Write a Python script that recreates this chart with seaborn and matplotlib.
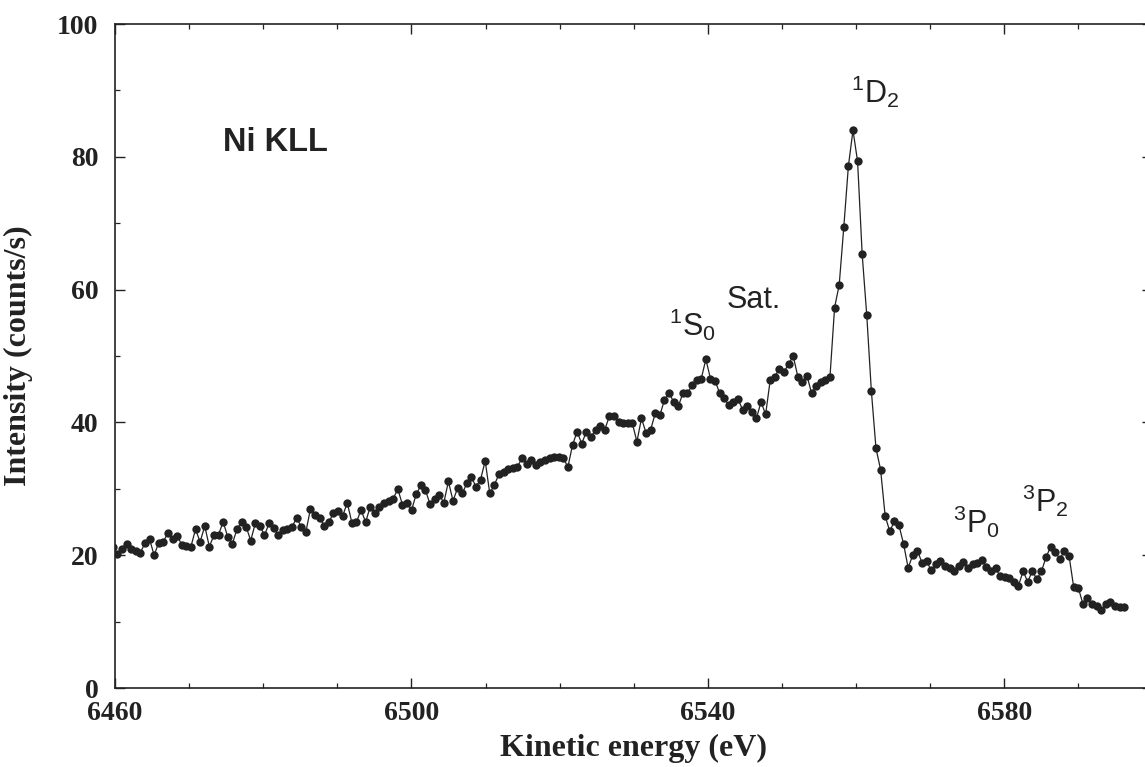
import numpy as np
import matplotlib
matplotlib.use("Agg")
import matplotlib.pyplot as plt
import seaborn as sns
from matplotlib.ticker import MultipleLocator

# ---- data ----
counts_low = [21.3, 20.2, 21.0, 21.7, 20.9, 20.7, 20.4, 21.8, 22.4, 20.0, 21.9, 22.0, 23.4, 22.4,
              22.9, 21.6, 21.4, 21.3, 23.9, 22.0, 24.4, 21.3, 23.0, 23.1, 25.0, 22.8, 21.7, 23.9,
              25.0, 24.3, 22.2, 24.8, 24.4, 23.0, 24.8, 24.1, 23.0, 23.8, 23.9, 24.3, 25.6, 24.3,
              23.5, 27.0, 26.1, 25.6, 24.4, 25.0, 26.3, 26.7, 25.9, 27.9, 24.9, 25.0, 26.8, 25.0,
              27.3, 26.3, 27.3, 27.8, 28.2, 28.5, 30.0, 27.6, 27.8, 26.8, 29.2, 30.5, 29.8, 27.7,
              28.4, 29.1, 27.9, 31.1, 28.2, 30.1, 29.3, 30.8, 31.8, 30.3, 31.4, 34.2, 29.3, 30.6,
              32.2, 32.6, 33.0]
counts_mid = [33.1, 33.3, 34.6, 33.8, 34.3, 33.6, 34.1, 34.3, 34.6, 34.8, 34.8, 34.6, 33.3,
              36.6, 38.6, 36.8, 38.6, 37.8, 38.9, 39.4, 38.9, 40.9, 41.0, 40.1, 39.9, 39.9, 39.9,
              37.1, 40.6, 38.4, 38.9, 41.4, 41.1, 43.4, 44.4, 43.1, 42.4, 44.4, 44.4, 45.6, 46.4,
              46.6, 49.5, 46.6, 46.3, 44.4, 43.6, 42.6, 43.1, 43.5, 41.9, 42.4, 41.6, 40.6, 43.1,
              41.2, 46.4, 46.9, 48.1, 47.6, 48.8, 50.0, 46.9, 46.1, 47.0, 44.4, 45.5, 46.1, 46.4,
              46.9]
counts_high = [57.3, 60.7, 69.4, 78.6, 84.0, 79.3, 65.3, 56.1, 44.7, 36.1, 32.9, 25.9, 23.6,
               25.1, 24.5, 21.7, 18.1, 20.0, 20.7, 18.9, 19.2, 17.7, 18.6, 19.2, 18.4, 18.0, 17.6,
               18.4, 19.0, 18.1, 18.6, 18.9, 19.3, 18.2, 17.6, 18.0, 16.9, 16.7, 16.5, 16.0, 15.4,
               17.6, 16.0, 17.6, 16.4, 17.6, 19.7, 21.3, 20.5, 19.4, 20.7, 19.9, 15.2, 15.1, 12.7,
               13.5, 12.7, 12.3, 11.7, 12.6, 13.0, 12.4, 12.2, 12.2]
counts = counts_low + counts_mid + counts_high
e_first, e_last = 6459.7, 6596.2
energy = np.linspace(e_first, e_last, len(counts))

x_major = [6460, 6500, 6540, 6580]
y_major = [0, 20, 40, 60, 80, 100]
peak_labels = [
    ("Ni KLL", 6481.7, 82.1, "sans-bold"),
    (r"$^{1}$S$_{0}$", 6537.9, 54.7, "sans"),
    ("Sat.", 6546.2, 58.4, "sans"),
    (r"$^{1}$D$_{2}$", 6562.6, 89.8, "sans"),
    (r"$^{3}$P$_{0}$", 6576.2, 25.0, "sans"),
    (r"$^{3}$P$_{2}$", 6585.5, 28.2, "sans"),
]

# ---- style ----
sns.set_style("ticks")
plt.rcParams["font.family"] = ["Liberation Serif", "DejaVu Serif"]
plt.rcParams["mathtext.default"] = "regular"

ink = "#222222"
fig = plt.figure(figsize=(11.45, 7.67), dpi=100)
ax = fig.add_axes([115 / 1145, 79 / 767, 1037.4 / 1145, 664 / 767])

sns.lineplot(x=energy, y=counts, ax=ax, color=ink, linewidth=0.9, marker="o",
             markersize=6.0, markeredgewidth=0, markerfacecolor=ink, sort=False)

ax.set_xlim(6460, 6600)
ax.set_ylim(0, 100)
ax.set_xticks(x_major)
ax.set_yticks(y_major)
ax.xaxis.set_minor_locator(MultipleLocator(10))
ax.yaxis.set_minor_locator(MultipleLocator(10))
ax.tick_params(which="both", direction="in", top=True, right=True, color=ink)
ax.tick_params(which="major", length=7, width=1.0)
ax.tick_params(which="minor", length=3.5, width=0.9)
ax.tick_params(axis="x", which="major", pad=9)
ax.tick_params(axis="y", which="major", pad=12)
for lab in ax.get_xticklabels() + ax.get_yticklabels():
    lab.set_fontweight("bold")
    lab.set_fontsize(20)
    lab.set_color(ink)
for sp in ax.spines.values():
    sp.set_linewidth(1.2)
    sp.set_color(ink)

ax.set_xlabel("Kinetic energy (eV)", fontsize=23, fontweight="bold", color=ink)
ax.set_ylabel("Intensity (counts/s)", fontsize=23, fontweight="bold", color=ink)
ax.xaxis.set_label_coords(0.5, -0.069)
ax.yaxis.set_label_coords(-0.079, 0.5)

for text, xv, yv, kind in peak_labels:
    ax.text(xv, yv, text, ha="center", va="center",
            family=["Liberation Sans", "DejaVu Sans"],
            fontweight="bold" if kind == "sans-bold" else "normal",
            fontsize=23.5 if kind == "sans-bold" else 22, color=ink)

fig.savefig("out.png", dpi=100)
